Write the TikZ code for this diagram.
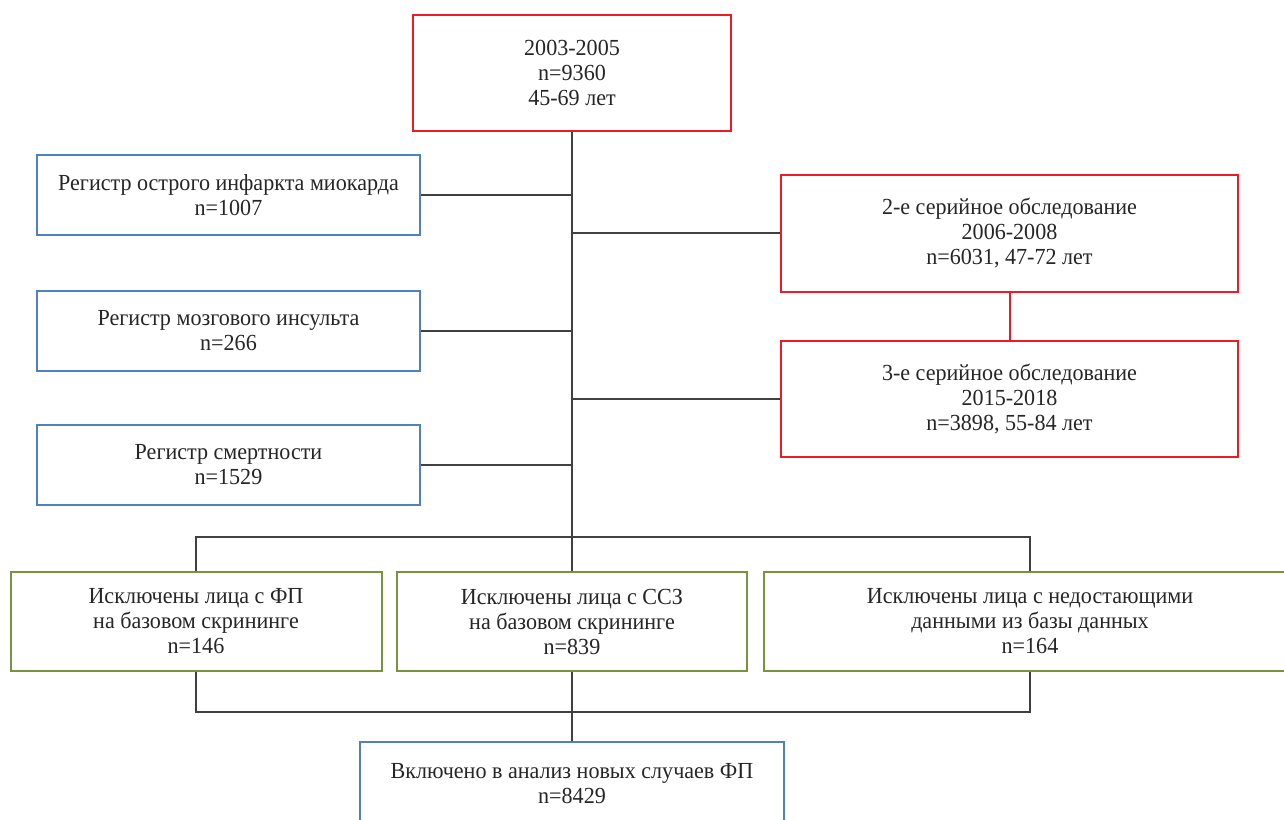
\documentclass[tikz,border=0pt]{standalone}
\usepackage{fontspec}
\setmainfont{Liberation Serif}[FakeStretch=0.96]
\definecolor{rbox}{RGB}{237,28,36}
\definecolor{bbox}{RGB}{79,129,189}
\definecolor{gbox}{RGB}{119,147,60}
\definecolor{lgray}{RGB}{64,64,64}
\tikzset{
  basebox/.style={draw, line width=2pt, align=center, inner sep=0pt, font=\fontsize{23}{25}\selectfont, text=black!85},
  redbox/.style={basebox, draw=rbox},
  bluebox/.style={basebox, draw=bbox},
  greenbox/.style={basebox, draw=gbox},
  conn/.style={draw=lgray, line width=1.5pt},
}
\begin{document}
\begin{tikzpicture}[x=1pt,y=-1pt]
\useasboundingbox[fill=white] (0,0) rectangle (1284,819);
\node[redbox, minimum width=318pt, minimum height=116pt] (top) at (572,73) {2003-2005\\n=9360\\45-69 лет};
\node[bluebox, minimum width=383pt, minimum height=80pt] (L1) at (228.5,195) {Регистр острого инфаркта миокарда\\n=1007};
\node[bluebox, minimum width=383pt, minimum height=80pt] (L2) at (228.5,331) {Регистр мозгового инсульта\\n=266};
\node[bluebox, minimum width=383pt, minimum height=80pt] (L3) at (228.5,465) {Регистр смертности\\n=1529};
\node[redbox, minimum width=457pt, minimum height=117pt] (R1) at (1009.5,233) {2-е серийное обследование\\2006-2008\\n=6031, 47-72 лет};
\node[redbox, minimum width=457pt, minimum height=116pt] (R2) at (1009.5,399) {3-е серийное обследование\\2015-2018\\n=3898, 55-84 лет};
\node[greenbox, minimum width=371pt, minimum height=99pt] (G1) at (196,621.5) {Исключены лица с ФП\\на базовом скрининге\\n=146};
\node[greenbox, minimum width=350pt, minimum height=99pt] (G2) at (572,621.5) {Исключены лица с ССЗ\\на базовом скрининге\\n=839};
\node[greenbox, minimum width=532pt, minimum height=99pt] (G3) at (1030,621.5) {Исключены лица с недостающими\\данными из базы данных\\n=164};
\node[bluebox, minimum width=424pt, minimum height=84pt] (bot) at (572,784) {Включено в анализ новых случаев ФП\\n=8429};
\coordinate (split) at (572,537);
\coordinate (merge) at (572,712);
\draw[conn] (top.south) -- (split);
\draw[conn] (L1.east) -- (L1.east -| split);
\draw[conn] (L2.east) -- (L2.east -| split);
\draw[conn] (L3.east) -- (L3.east -| split);
\draw[conn] (R1.west) -- (R1.west -| split);
\draw[conn] (R2.west) -- (R2.west -| split);
\draw[draw=rbox, line width=2pt] (R1.south) -- (R2.north);
\draw[conn] (G1.north) |- (split) -| (G3.north);
\draw[conn] (split) -- (G2.north);
\draw[conn] (G1.south) |- (merge) -| (G3.south);
\draw[conn] (G2.south) -- (merge) -- (bot.north);
\end{tikzpicture}
\end{document}
